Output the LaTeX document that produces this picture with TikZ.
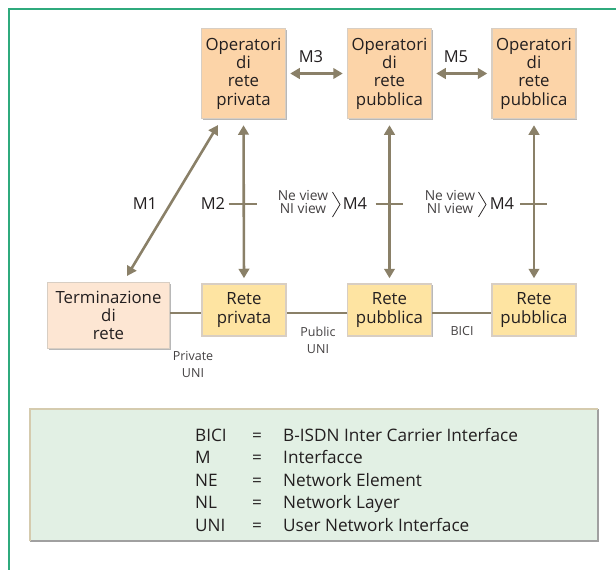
\documentclass[tikz,border=0pt]{standalone}
\usepackage{fontspec}
\setmainfont{Open Sans}
\usetikzlibrary{arrows.meta,calc,shadows}
\definecolor{arrc}{HTML}{8A8068}
\definecolor{frame}{HTML}{2FAA7D}
\definecolor{opfill}{HTML}{FCD4A8}
\definecolor{retefill}{HTML}{FEE4A2}
\definecolor{termfill}{HTML}{FDE6D3}
\definecolor{boxedge}{HTML}{D8CEC3}
\definecolor{txt}{HTML}{231F20}
\definecolor{legfill}{HTML}{E2F0E4}
\definecolor{legtop}{HTML}{D5CBAE}
\definecolor{legshadow}{HTML}{A0A0A0}
\begin{document}
\begin{tikzpicture}[x=1pt,y=-1pt,
  box/.style={draw=boxedge, line width=1.5pt, inner sep=0pt, align=center, text=txt,
    font=\fontsize{16.8}{18.3}\selectfont,
    drop shadow={shadow xshift=1.2pt, shadow yshift=-1.2pt, fill=black!28, opacity=1}},
  opbox/.style={box, fill=opfill, minimum width=84pt, minimum height=90pt},
  retebox/.style={box, fill=retefill, minimum width=84pt, minimum height=52pt},
  termbox/.style={box, fill=termfill, minimum width=122pt, minimum height=66pt},
  arr/.style={draw=arrc, line width=2.6pt, {Triangle[width=10.5pt,length=9.5pt]}-{Triangle[width=10.5pt,length=9.5pt]}},
  conn/.style={draw=arrc, line width=2.6pt},
  tick/.style={draw=arrc, line width=2.4pt},
  lbl/.style={text=txt, inner sep=0pt, font=\fontsize{16.5}{18}\selectfont},
  small/.style={text=txt!85, inner sep=0pt, align=center, font=\fontsize{12.5}{17}\selectfont},
  leg/.style={text=txt, inner sep=0pt, anchor=base west, font=\fontsize{17.2}{20}\selectfont}
]
\useasboundingbox (0,0) rectangle (616,570);
% frame
\draw[frame, line width=1.6pt] (9,571) -- (9,9) -- (617,9);

% top boxes
\node[opbox] (op1) at (243.5,73.5) {Operatori\\di\\rete\\privata};
\node[opbox] (op2) at (389.5,73.5) {Operatori\\di\\rete\\pubblica};
\node[opbox] (op3) at (534,73.5) {Operatori\\di\\rete\\pubblica};

% bottom boxes
\node[termbox] (term) at (108.5,315.5) {Terminazione\\di\\rete};
\node[retebox] (rp1) at (244,310) {Rete\\privata};
\node[retebox] (rp2) at (389.5,310) {Rete\\pubblica};
\node[retebox] (rp3) at (534,310) {Rete\\pubblica};

% horizontal connectors
\coordinate (hy) at (0,313);
\draw[conn] (term.east |- hy) -- (rp1.west |- hy);
\draw[conn] (rp1.east |- hy) -- (rp2.west |- hy);
\draw[conn] (rp2.east |- hy) -- (rp3.west |- hy);

% M3, M5 arrows
\draw[arr, shorten <=4pt, shorten >=4pt] (op1.east) -- (op2.west);
\draw[arr, shorten <=4pt, shorten >=4pt] (op2.east) -- (op3.west);
\node[lbl] (m3) at (311,57) {M3};
\node[lbl] (m5) at (456,57) {M5};

% vertical arrows
\draw[arr, shorten <=6pt, shorten >=5pt] (op1.south) -- (rp1.north);
\draw[arr, shorten <=6pt, shorten >=5pt] (op2.south) -- (rp2.north);
\draw[arr, shorten <=6pt, shorten >=5pt] (op3.south) -- (rp3.north);

% M1 diagonal
\coordinate (m1a) at (218,125);
\coordinate (m1b) at (127,276);
\draw[arr] (m1a) -- (m1b);
\node[lbl] (m1) at (145,204) {M1};

% ticks
\coordinate (ty) at (0,204);
\draw[tick] ($(op1.south |- ty)+(-15,0)$) -- ($(op1.south |- ty)+(13,0)$);
\draw[tick] ($(op2.south |- ty)+(-14,0)$) -- ($(op2.south |- ty)+(13,0)$);
\draw[tick] ($(op3.south |- ty)+(-14,0)$) -- ($(op3.south |- ty)+(13,0)$);

\node[lbl] (m2) at (213,204) {M2};
\node[lbl] (m4a) at (355,204) {M4};
\node[lbl] (m4b) at (502,204) {M4};

\node[small, font=\fontsize{13.8}{13}\selectfont] (nv1) at (303,202) {Ne view\\NI view};
\node[small, font=\fontsize{13.8}{13}\selectfont] (nv2) at (450,202) {Ne view\\NI view};
\draw[txt, line width=0.7pt] (332.5,192) -- (340,204.5) -- (332.5,217);
\draw[txt, line width=0.7pt] (478.5,192) -- (486,204.5) -- (478.5,217);

% interface labels
\node[small] (priv) at (193,364) {Private\\UNI};
\node[small] (pub) at (318,340) {Public\\UNI};
\node[small] (bici) at (462,331) {BICI};

% legend
\fill[legfill] (30,409) rectangle (598,541);
\draw[legshadow, line width=2pt] (598,409) -- (598,541) -- (30,541);
\draw[legtop, line width=2pt] (30,541) -- (30,409) -- (598,409);
\node[leg] (l1a) at (195,441) {BICI};
\node[leg] (l1b) at (252,441) {=};
\node[leg] (l1c) at (283,441) {B-ISDN Inter Carrier Interface};
\node[leg] (l2a) at (195,463.5) {M};
\node[leg] (l2b) at (252,463.5) {=};
\node[leg] (l2c) at (283,463.5) {Interfacce};
\node[leg] (l3a) at (195,486) {NE};
\node[leg] (l3b) at (252,486) {=};
\node[leg] (l3c) at (283,486) {Network Element};
\node[leg] (l4a) at (195,508.5) {NL};
\node[leg] (l4b) at (252,508.5) {=};
\node[leg] (l4c) at (283,508.5) {Network Layer};
\node[leg] (l5a) at (195,531) {UNI};
\node[leg] (l5b) at (252,531) {=};
\node[leg] (l5c) at (283,531) {User Network Interface};
\end{tikzpicture}
\end{document}
